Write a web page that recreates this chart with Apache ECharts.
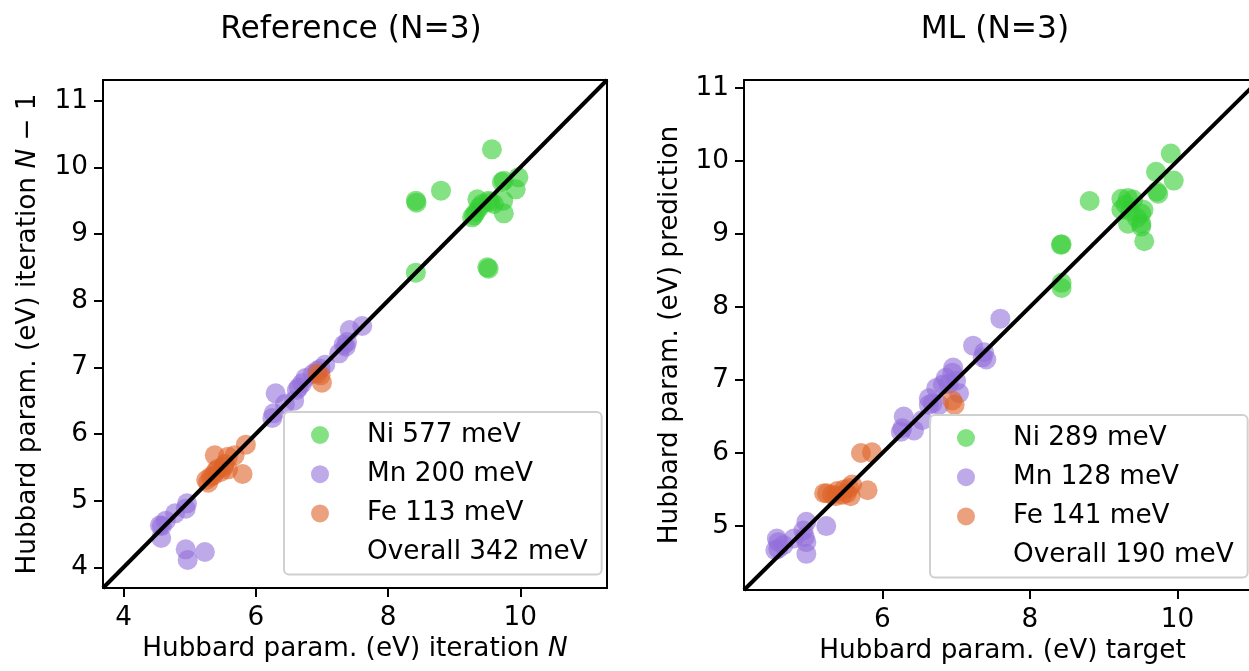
<!DOCTYPE html>
<html>
<head>
<meta charset="utf-8">
<script src="https://cdn.jsdelivr.net/npm/echarts@6/dist/echarts.min.js"></script>
<style>html,body{margin:0;padding:0;background:#fff;}#c{width:1249px;height:671px;}</style>
</head>
<body>
<div id="c"></div>
<script>
// ---- data ----
const titles = ['Reference (N=3)', 'ML (N=3)'];
const leftLegend = ['Ni 577 meV', 'Mn 200 meV', 'Fe 113 meV', 'Overall 342 meV'];
const rightLegend = ['Ni 289 meV', 'Mn 128 meV', 'Fe 141 meV', 'Overall 190 meV'];
const leftXTicks = [4, 6, 8, 10];
const leftYTicks = [4, 5, 6, 7, 8, 9, 10, 11];
const rightXTicks = [6, 8, 10];
const rightYTicks = [5, 6, 7, 8, 9, 10, 11];
const leftRange = [3.69, 11.31];
const rightRange = [4.125, 11.107];
const rightXVisibleMax = 10.97;   // right panel is cut by the figure edge

const leftNi = [[9.57,10.27],[8.80,9.65],[8.42,9.50],[8.43,9.47],[9.75,9.80],[9.72,9.78],[9.97,9.85],[9.93,9.67],[9.74,9.50],[9.75,9.31],[9.35,9.52],[9.55,9.48],[9.52,9.50],[9.30,9.28],[9.38,9.40],[9.33,9.33],[9.42,9.45],[9.27,9.25],[9.60,9.45],[8.42,8.42],[9.52,8.48],[9.50,8.50]];
const leftMn = [[7.61,7.62],[7.42,7.56],[7.38,7.38],[7.36,7.31],[7.33,7.34],[7.26,7.21],[7.05,7.04],[6.98,6.98],[6.93,6.95],[6.86,6.90],[6.75,6.84],[6.70,6.76],[6.65,6.70],[6.62,6.66],[6.58,6.50],[6.44,6.45],[6.30,6.61],[6.27,6.31],[6.25,6.24],[4.96,4.96],[4.94,4.88],[4.78,4.81],[4.64,4.70],[4.55,4.63],[4.58,4.62],[4.57,4.44],[4.94,4.27],[4.97,4.11],[5.23,4.23]];
const leftFe = [[6.98,6.88],[7.00,6.77],[6.93,6.91],[5.85,5.84],[5.68,5.68],[5.38,5.68],[5.58,5.66],[5.53,5.55],[5.43,5.48],[5.80,5.40],[5.47,5.43],[5.32,5.36],[5.25,5.31],[5.28,5.27],[5.36,5.38],[5.58,5.47],[5.40,5.45],[5.52,5.51]];

const rightNi = [[9.91,10.10],[9.71,9.85],[9.95,9.73],[9.72,9.58],[9.74,9.55],[8.81,9.45],[9.24,9.48],[9.33,9.49],[9.40,9.47],[9.54,9.33],[9.51,9.28],[9.24,9.33],[9.36,9.31],[9.30,9.40],[9.33,9.14],[9.51,9.14],[9.51,9.10],[9.45,9.22],[9.55,8.90],[8.43,8.86],[8.42,8.85],[8.43,8.33],[8.43,8.26]];
const rightMn = [[7.60,7.84],[7.23,7.47],[7.38,7.38],[7.41,7.28],[7.36,7.31],[6.96,7.17],[6.95,7.10],[6.86,7.03],[7.00,6.99],[6.82,6.94],[7.04,6.82],[6.73,6.89],[6.63,6.75],[6.77,6.66],[6.68,6.68],[6.63,6.66],[6.90,6.95],[6.54,6.45],[6.29,6.50],[6.27,6.34],[6.25,6.29],[6.43,6.31],[5.24,5.00],[4.97,5.06],[4.93,4.94],[4.97,4.78],[4.97,4.62],[4.80,4.83],[4.57,4.83],[4.59,4.78],[4.59,4.69],[4.66,4.74],[4.55,4.67],[4.95,4.85]];
const rightFe = [[6.95,6.72],[6.98,6.66],[5.71,6.00],[5.86,6.01],[5.80,5.49],[5.59,5.57],[5.55,5.52],[5.25,5.45],[5.32,5.43],[5.39,5.48],[5.46,5.43],[5.52,5.45],[5.57,5.41],[5.21,5.45],[5.37,5.41],[5.48,5.50]];

// ---- styling ----
const FONT = 'DejaVu Sans';
const colors = ['#32cd32', '#9370db', '#de6228'];
const FS = 26.3;
const rich = { a: { fontFamily: FONT, fontSize: FS, color: '#000' }, i: { fontFamily: FONT, fontSize: FS, fontStyle: 'italic', color: '#000' } };

function xAxisCfg(gi, min, max, ticks, nameRich, namePad) {
  return {
    gridIndex: gi, type: 'value', min: min, max: max,
    splitLine: { show: false },
    axisLine: { show: true, onZero: false, lineStyle: { color: '#000', width: 2 } },
    axisTick: { show: true, customValues: ticks, length: 9, lineStyle: { color: '#000', width: 2 } },
    axisLabel: { customValues: ticks, margin: 17, color: '#000', fontFamily: FONT, fontSize: FS },
    name: nameRich, nameLocation: 'middle', nameGap: 47,
    nameTextStyle: { color: '#000', fontFamily: FONT, fontSize: FS, rich: rich, padding: namePad }
  };
}
function yAxisCfg(gi, range, ticks, nameRich, gap) {
  return {
    gridIndex: gi, type: 'value', min: range[0], max: range[1],
    splitLine: { show: false },
    axisLine: { show: true, onZero: false, lineStyle: { color: '#000', width: 2 } },
    axisTick: { show: true, customValues: ticks, length: 9, lineStyle: { color: '#000', width: 2 } },
    axisLabel: { customValues: ticks, margin: 15, color: '#000', fontFamily: FONT, fontSize: FS },
    name: nameRich, nameLocation: 'middle', nameGap: gap, nameRotate: 90,
    nameTextStyle: { color: '#000', fontFamily: FONT, fontSize: FS, rich: rich }
  };
}
function scatter(name, data, color, ai) {
  return { type: 'scatter', name: name, data: data, xAxisIndex: ai, yAxisIndex: ai,
    symbol: 'circle', symbolSize: 20, itemStyle: { color: color, opacity: 0.6 }, z: 2, silent: true };
}
function diag(range, ai) {
  return { type: 'line', data: [[range[0], range[0]], [range[1], range[1]]], xAxisIndex: ai, yAxisIndex: ai,
    symbol: 'none', clip: true, lineStyle: { color: '#000', width: 4 }, z: 5, silent: true };
}
function legendCfg(names, left, top) {
  return {
    data: names.map(n => ({ name: n })),
    orient: 'vertical', left: left, top: top,
    itemWidth: 18, itemHeight: 18, itemGap: 13.2,
    padding: [10, 14, 9, 27],
    backgroundColor: 'rgba(255,255,255,0.8)', borderColor: '#d0d0d0', borderWidth: 2, borderRadius: 5,
    selectedMode: false,
    textStyle: { fontFamily: FONT, fontSize: FS, color: '#000', lineHeight: 25.5, padding: [0, 0, 0, 33] }
  };
}

const chart = echarts.init(document.getElementById('c'), null, { renderer: 'canvas' });
chart.setOption({
  animation: false,
  backgroundColor: '#fff',
  title: [
    { text: titles[0], left: 351, top: 14, textAlign: 'center', padding: 0,
      textStyle: { fontFamily: FONT, fontSize: 31.3, fontWeight: 'normal', color: '#000' } },
    { text: titles[1], left: 995, top: 14, textAlign: 'center', padding: 0,
      textStyle: { fontFamily: FONT, fontSize: 31.3, fontWeight: 'normal', color: '#000' } }
  ],
  grid: [
    { left: 103, top: 80, width: 504, height: 508, show: true, borderColor: '#000', borderWidth: 2, backgroundColor: 'transparent' },
    { left: 744, top: 80, width: 505, height: 510, show: false }
  ],
  xAxis: [
    xAxisCfg(0, leftRange[0], leftRange[1], leftXTicks, '{a|Hubbard param. (eV) iteration }{i|N}', 0),
    xAxisCfg(1, rightRange[0], rightXVisibleMax, rightXTicks, '{a|Hubbard param. (eV) target}', [0, 0, 0, 12]),
    { gridIndex: 1, type: 'value', position: 'top', min: rightRange[0], max: rightXVisibleMax,
      splitLine: { show: false }, axisTick: { show: false }, axisLabel: { show: false },
      axisLine: { show: true, onZero: false, lineStyle: { color: '#000', width: 2 } } }
  ],
  yAxis: [
    yAxisCfg(0, leftRange, leftYTicks, '{a|Hubbard param. (eV) iteration }{i|N}{a| − 1}', 62),
    yAxisCfg(1, rightRange, rightYTicks, '{a|Hubbard param. (eV) prediction}', 61)
  ],
  legend: [
    legendCfg(leftLegend, 284, 412),
    legendCfg(rightLegend, 930, 415)
  ],
  series: [
    scatter(leftLegend[0], leftNi, colors[0], 0),
    scatter(leftLegend[1], leftMn, colors[1], 0),
    scatter(leftLegend[2], leftFe, colors[2], 0),
    { type: 'scatter', name: leftLegend[3], data: [], xAxisIndex: 0, yAxisIndex: 0, itemStyle: { color: 'rgba(255,255,255,0)' } },
    diag(leftRange, 0),
    scatter(rightLegend[0], rightNi, colors[0], 1),
    scatter(rightLegend[1], rightMn, colors[1], 1),
    scatter(rightLegend[2], rightFe, colors[2], 1),
    { type: 'scatter', name: rightLegend[3], data: [], xAxisIndex: 1, yAxisIndex: 1, itemStyle: { color: 'rgba(255,255,255,0)' } },
    diag(rightRange, 1)
  ]
});
</script>
</body>
</html>
